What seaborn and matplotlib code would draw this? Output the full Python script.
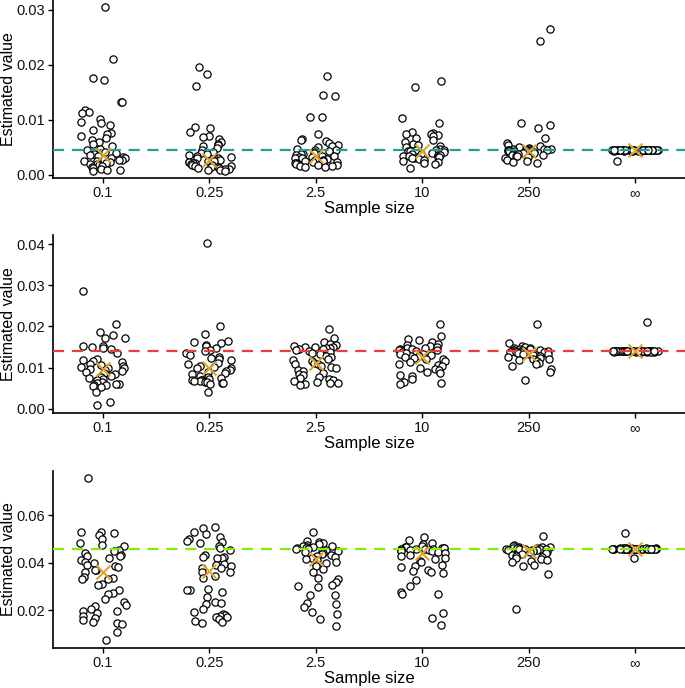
import numpy as np
import pandas as pd
import matplotlib
matplotlib.use("Agg")
import matplotlib.pyplot as plt
import seaborn as sns
from matplotlib.ticker import FormatStrFormatter

sns.set_theme(style="white")
plt.rcParams['font.family'] = ['Liberation Sans', 'DejaVu Sans']

sizes = ["0.1", "0.25", "2.5", "10", "250", "\u221e"]

# ---- Panel 1 ----
p1_s0 = [0.0305, 0.0210, 0.0177, 0.0173, 0.0133, 0.0133, 0.0118, 0.0115, 0.0112, 0.0101, 0.0097, 0.0095,
         0.0090, 0.0082, 0.0077, 0.0074, 0.0071, 0.0068, 0.0064, 0.0060, 0.0056, 0.0052, 0.0048, 0.0045,
         0.0042, 0.0040, 0.0038, 0.0036, 0.0034, 0.0032, 0.0030, 0.0030, 0.0028, 0.0027, 0.0026, 0.0025,
         0.0023, 0.0022, 0.0020, 0.0020, 0.0018, 0.0016, 0.0015, 0.0013, 0.0010, 0.0009, 0.0009, 0.0008]
p1_s1 = [0.0196, 0.0184, 0.0162, 0.0088, 0.0085, 0.0078, 0.0071, 0.0069, 0.0065, 0.0060, 0.0057, 0.0054,
         0.0052, 0.0049, 0.0045, 0.0042, 0.0040, 0.0038, 0.0036, 0.0034, 0.0033, 0.0031, 0.0030, 0.0028,
         0.0027, 0.0026, 0.0025, 0.0024, 0.0023, 0.0022, 0.0021, 0.0020, 0.0019, 0.0018, 0.0017, 0.0016,
         0.0015, 0.0014, 0.0013, 0.0012, 0.0011, 0.0010, 0.0009, 0.0009, 0.0008]
p1_s2 = [0.0180, 0.0146, 0.0144, 0.0105, 0.0105, 0.0074, 0.0066, 0.0064, 0.0061, 0.0058, 0.0055, 0.0052,
         0.0050, 0.0048, 0.0046, 0.0045, 0.0044, 0.0042, 0.0040, 0.0039, 0.0038, 0.0036, 0.0035, 0.0034,
         0.0033, 0.0032, 0.0031, 0.0030, 0.0029, 0.0028, 0.0027, 0.0026, 0.0025, 0.0024, 0.0023, 0.0022,
         0.0021, 0.0020, 0.0019, 0.0018, 0.0017, 0.0016, 0.0015, 0.0014]
p1_s3 = [0.0171, 0.0159, 0.0103, 0.0094, 0.0079, 0.0077, 0.0075, 0.0075, 0.0073, 0.0071, 0.0068, 0.0064,
         0.0060, 0.0057, 0.0055, 0.0052, 0.0050, 0.0048, 0.0046, 0.0045, 0.0045, 0.0044, 0.0043, 0.0042,
         0.0041, 0.0040, 0.0039, 0.0038, 0.0037, 0.0036, 0.0035, 0.0034, 0.0033, 0.0032, 0.0031, 0.0030,
         0.0029, 0.0028, 0.0026, 0.0024, 0.0022, 0.0020, 0.0013]
p1_s4 = [0.0265, 0.0243, 0.0095, 0.0091, 0.0085, 0.0068, 0.0058, 0.0054, 0.0052, 0.0050, 0.0049, 0.0048,
         0.0048, 0.0047, 0.0047, 0.0046, 0.0046, 0.0045, 0.0045, 0.0045, 0.0044, 0.0044, 0.0044, 0.0043,
         0.0043, 0.0042, 0.0042, 0.0041, 0.0041, 0.0040, 0.0040, 0.0039, 0.0038, 0.0037, 0.0036, 0.0035,
         0.0034, 0.0032, 0.0030, 0.0028, 0.0025, 0.0024, 0.0022]
p1_s5 = [0.0046, 0.0045, 0.0045, 0.0046, 0.0045, 0.0044, 0.0045, 0.0045, 0.0046, 0.0045, 0.0045, 0.0044,
         0.0045, 0.0046, 0.0045, 0.0045, 0.0045, 0.0044, 0.0045, 0.0046, 0.0045, 0.0045, 0.0045, 0.0045,
         0.0044, 0.0045, 0.0046, 0.0045, 0.0045, 0.0045, 0.0044, 0.0045, 0.0045, 0.0046, 0.0045, 0.0045,
         0.0045, 0.0045, 0.0044, 0.0045, 0.0046, 0.0045, 0.0026]
p1_center = [0.0036, 0.0028, 0.0035, 0.0044, 0.0044, 0.0045]

# ---- Panel 2 ----
p2_s0 = [0.0286, 0.0206, 0.0187, 0.0180, 0.0172, 0.0171, 0.0153, 0.0153, 0.0151, 0.0147, 0.0146, 0.0136,
         0.0120, 0.0118, 0.0115, 0.0114, 0.0110, 0.0107, 0.0104, 0.0102, 0.0100, 0.0098, 0.0096, 0.0095,
         0.0092, 0.0090, 0.0087, 0.0084, 0.0081, 0.0078, 0.0076, 0.0073, 0.0070, 0.0066, 0.0063, 0.0061,
         0.0060, 0.0059, 0.0058, 0.0056, 0.0052, 0.0040, 0.0016, 0.0009]
p2_s1 = [0.0403, 0.0202, 0.0181, 0.0165, 0.0162, 0.0161, 0.0155, 0.0152, 0.0147, 0.0143, 0.0140, 0.0136,
         0.0131, 0.0127, 0.0123, 0.0120, 0.0118, 0.0112, 0.0108, 0.0104, 0.0102, 0.0100, 0.0098, 0.0095,
         0.0092, 0.0089, 0.0086, 0.0084, 0.0081, 0.0078, 0.0075, 0.0073, 0.0071, 0.0070, 0.0069, 0.0068,
         0.0067, 0.0066, 0.0065, 0.0064, 0.0062, 0.0060, 0.0040]
p2_s2 = [0.0195, 0.0171, 0.0163, 0.0158, 0.0155, 0.0153, 0.0151, 0.0150, 0.0149, 0.0148, 0.0147, 0.0146,
         0.0145, 0.0143, 0.0141, 0.0138, 0.0135, 0.0132, 0.0128, 0.0125, 0.0122, 0.0119, 0.0115, 0.0112,
         0.0110, 0.0108, 0.0105, 0.0102, 0.0098, 0.0095, 0.0092, 0.0088, 0.0085, 0.0082, 0.0078, 0.0075,
         0.0072, 0.0070, 0.0068, 0.0066, 0.0064, 0.0062, 0.0060, 0.0058]
p2_s3 = [0.0206, 0.0177, 0.0170, 0.0166, 0.0162, 0.0158, 0.0155, 0.0153, 0.0150, 0.0148, 0.0147, 0.0146,
         0.0145, 0.0144, 0.0143, 0.0142, 0.0140, 0.0138, 0.0136, 0.0134, 0.0132, 0.0130, 0.0128, 0.0126,
         0.0124, 0.0122, 0.0120, 0.0117, 0.0114, 0.0110, 0.0106, 0.0103, 0.0100, 0.0097, 0.0094, 0.0090,
         0.0087, 0.0083, 0.0080, 0.0072, 0.0065, 0.0062, 0.0060]
p2_s4 = [0.0207, 0.0161, 0.0152, 0.0150, 0.0148, 0.0147, 0.0146, 0.0145, 0.0144, 0.0143, 0.0142, 0.0142,
         0.0141, 0.0140, 0.0140, 0.0139, 0.0139, 0.0138, 0.0137, 0.0136, 0.0135, 0.0134, 0.0133, 0.0132,
         0.0131, 0.0130, 0.0128, 0.0126, 0.0124, 0.0122, 0.0120, 0.0118, 0.0115, 0.0112, 0.0109, 0.0104,
         0.0097, 0.0090, 0.0070]
p2_s5 = [0.0141, 0.0140, 0.0140, 0.0141, 0.0140, 0.0139, 0.0140, 0.0140, 0.0141, 0.0140, 0.0140, 0.0139,
         0.0140, 0.0141, 0.0140, 0.0140, 0.0140, 0.0139, 0.0140, 0.0141, 0.0140, 0.0140, 0.0140, 0.0140,
         0.0139, 0.0140, 0.0141, 0.0140, 0.0140, 0.0140, 0.0139, 0.0140, 0.0140, 0.0141, 0.0140, 0.0140,
         0.0140, 0.0140, 0.0139, 0.0140, 0.0141, 0.0140, 0.0211]
p2_center = [0.0096, 0.0100, 0.0112, 0.0126, 0.0132, 0.0140]

# ---- Panel 3 ----
p3_s0 = [0.0758, 0.0532, 0.0530, 0.0528, 0.0517, 0.0500, 0.0482, 0.0476, 0.0469, 0.0455, 0.0452, 0.0441,
         0.0435, 0.0430, 0.0428, 0.0420, 0.0412, 0.0405, 0.0398, 0.0392, 0.0388, 0.0383, 0.0370, 0.0368,
         0.0360, 0.0338, 0.0336, 0.0332, 0.0330, 0.0312, 0.0307, 0.0283, 0.0273, 0.0269, 0.0246, 0.0234,
         0.0222, 0.0217, 0.0204, 0.0196, 0.0195, 0.0189, 0.0176, 0.0165, 0.0160, 0.0148, 0.0145, 0.0141,
         0.0107, 0.0072]
p3_s1 = [0.0551, 0.0549, 0.0530, 0.0521, 0.0510, 0.0501, 0.0492, 0.0490, 0.0483, 0.0472, 0.0462, 0.0455,
         0.0431, 0.0425, 0.0424, 0.0422, 0.0420, 0.0396, 0.0392, 0.0386, 0.0379, 0.0376, 0.0361, 0.0360,
         0.0346, 0.0335, 0.0290, 0.0287, 0.0285, 0.0277, 0.0255, 0.0234, 0.0230, 0.0227, 0.0204, 0.0192,
         0.0182, 0.0178, 0.0175, 0.0172, 0.0170, 0.0162, 0.0156, 0.0150, 0.0146]
p3_s2 = [0.0532, 0.0494, 0.0490, 0.0483, 0.0478, 0.0474, 0.0472, 0.0470, 0.0468, 0.0466, 0.0464, 0.0462,
         0.0460, 0.0458, 0.0455, 0.0452, 0.0448, 0.0445, 0.0440, 0.0436, 0.0432, 0.0428, 0.0424, 0.0420,
         0.0415, 0.0410, 0.0405, 0.0400, 0.0395, 0.0388, 0.0372, 0.0362, 0.0335, 0.0330, 0.0321, 0.0307,
         0.0300, 0.0297, 0.0266, 0.0262, 0.0232, 0.0224, 0.0215, 0.0194, 0.0182, 0.0163, 0.0135]
p3_s3 = [0.0508, 0.0497, 0.0483, 0.0480, 0.0472, 0.0468, 0.0465, 0.0463, 0.0462, 0.0461, 0.0460, 0.0459,
         0.0458, 0.0457, 0.0456, 0.0455, 0.0453, 0.0451, 0.0448, 0.0445, 0.0440, 0.0435, 0.0427, 0.0421,
         0.0418, 0.0407, 0.0404, 0.0389, 0.0386, 0.0382, 0.0368, 0.0365, 0.0361, 0.0358, 0.0327, 0.0300,
         0.0275, 0.0270, 0.0269, 0.0187, 0.0166, 0.0137]
p3_s4 = [0.0513, 0.0475, 0.0470, 0.0468, 0.0466, 0.0465, 0.0464, 0.0463, 0.0462, 0.0461, 0.0460, 0.0460,
         0.0459, 0.0459, 0.0458, 0.0457, 0.0456, 0.0455, 0.0454, 0.0452, 0.0450, 0.0448, 0.0446, 0.0444,
         0.0441, 0.0438, 0.0435, 0.0430, 0.0426, 0.0422, 0.0418, 0.0412, 0.0406, 0.0404, 0.0389, 0.0385,
         0.0351, 0.0204]
p3_s5 = [0.0461, 0.0460, 0.0460, 0.0461, 0.0460, 0.0459, 0.0460, 0.0460, 0.0461, 0.0460, 0.0460, 0.0459,
         0.0460, 0.0461, 0.0460, 0.0460, 0.0460, 0.0459, 0.0460, 0.0461, 0.0460, 0.0460, 0.0460, 0.0460,
         0.0459, 0.0460, 0.0461, 0.0460, 0.0460, 0.0460, 0.0459, 0.0460, 0.0460, 0.0461, 0.0460, 0.0460,
         0.0460, 0.0460, 0.0459, 0.0460, 0.0525, 0.0420]
p3_center = [0.0361, 0.0365, 0.0417, 0.0441, 0.0452, 0.0460]

true_values = [0.0045, 0.014, 0.046]
line_colors = ["#1f9e9a", "#f23a3a", "#80f000"]
y_ticks = [[0.00, 0.01, 0.02, 0.03], [0.00, 0.01, 0.02, 0.03, 0.04], [0.02, 0.04, 0.06]]
y_lims = [(-0.00055, 0.0318), (-0.0010, 0.0422), (0.0040, 0.0788)]

panels = [
    [p1_s0, p1_s1, p1_s2, p1_s3, p1_s4, p1_s5],
    [p2_s0, p2_s1, p2_s2, p2_s3, p2_s4, p2_s5],
    [p3_s0, p3_s1, p3_s2, p3_s3, p3_s4, p3_s5],
]
centers = [p1_center, p2_center, p3_center]

W, H = 685, 688
fig = plt.figure(figsize=(W / 100, H / 100), dpi=100)
fig.patch.set_facecolor("white")

boxes = [(0, 178), (235, 413), (471, 648)]  # top, bottom pixels
left_px = 53
ax_w_px = W - left_px

rng_seeds = [3, 7, 11]
for i, (series, cen) in enumerate(zip(panels, centers)):
    top, bot = boxes[i]
    ax = fig.add_axes([left_px / W, 1 - bot / H, ax_w_px / W, (bot - top) / H])
    rows = []
    for cat, vals in zip(sizes, series):
        for v in vals:
            rows.append((cat, v))
    df = pd.DataFrame(rows, columns=["size", "value"])
    np.random.seed(rng_seeds[i])
    sns.stripplot(data=df, x="size", y="value", order=sizes, jitter=0.22,
                  color="white", edgecolor="black", linewidth=0.9, size=5.2, ax=ax, zorder=1)
    ax.axhline(true_values[i], color=line_colors[i], lw=1.6, ls=(0, (5, 3.5)), zorder=3)
    cdf = pd.DataFrame({"size": sizes, "value": cen})
    sns.stripplot(data=cdf, x="size", y="value", order=sizes, jitter=False, marker="x",
                  color="#e0a52a", linewidth=1.5, size=10, ax=ax, zorder=4)
    ax.set_xlim(-0.47, 5.47)
    ax.set_ylim(*y_lims[i])
    ax.set_yticks(y_ticks[i])
    ax.yaxis.set_major_formatter(FormatStrFormatter("%.2f"))
    for s in ["top", "right"]:
        ax.spines[s].set_visible(False)
    for s in ["left", "bottom"]:
        ax.spines[s].set_color("black")
        ax.spines[s].set_linewidth(1.2)
    ax.tick_params(axis="both", which="major", length=3.5, width=1, color="black",
                   labelsize=10.5, labelcolor="#111111", pad=2, left=True, bottom=True)
    ax.set_xlabel("Sample size", fontsize=12, color="black", labelpad=1)
    ax.set_ylabel("Estimated value", fontsize=11.5, color="black")
    ax.yaxis.set_label_coords(-(left_px - 16) / ax_w_px, 0.5)
    ax.set_facecolor("white")
    ax.grid(False)

fig.savefig("out.png", dpi=100, facecolor="white")
